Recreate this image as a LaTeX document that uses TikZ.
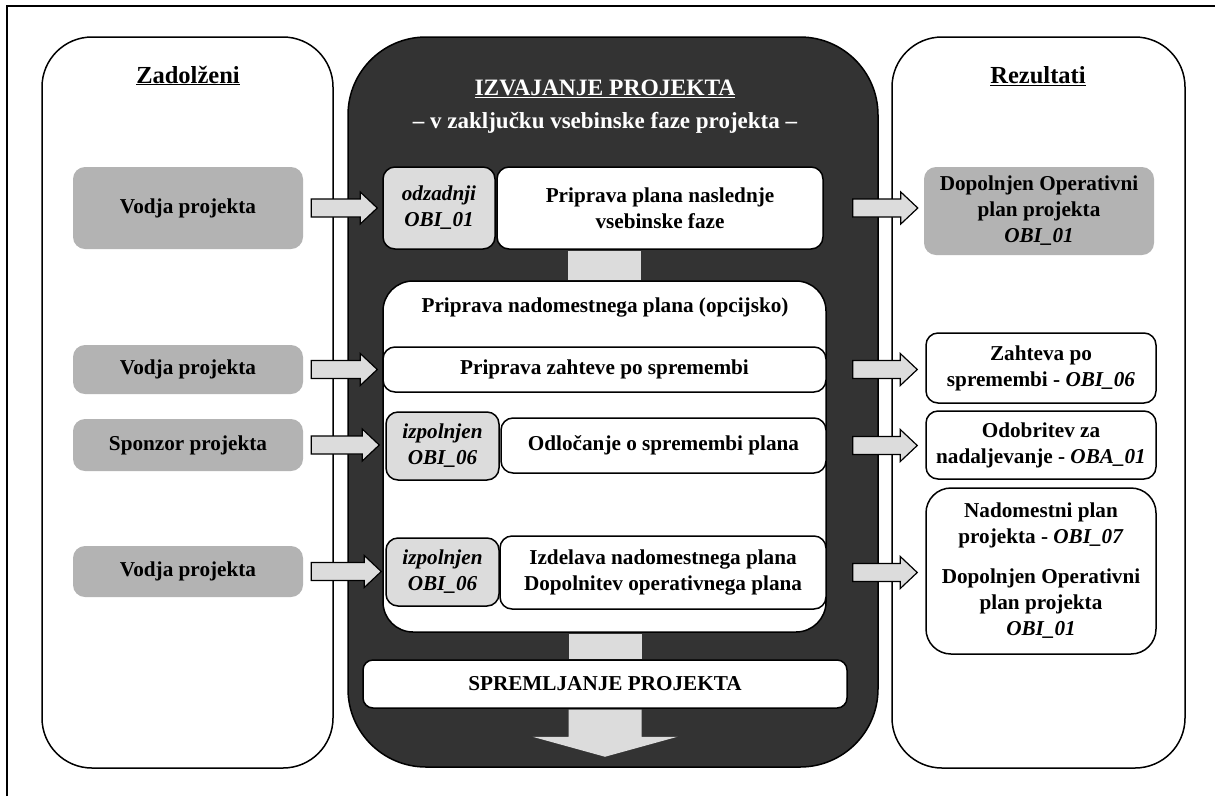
\documentclass[tikz,border=0pt]{standalone}
\usepackage{fontspec}
\setmainfont{Liberation Serif}
\usetikzlibrary{calc}

\definecolor{panelgray}{HTML}{333333}
\definecolor{lightfill}{HTML}{DCDCDC}
\definecolor{midfill}{HTML}{B3B3B3}

\tikzset{
  wh/.style 2 args={minimum width=#1pt, minimum height=#2pt},
  txt/.style={font=\bfseries\fontsize{21.2}{26}\selectfont, align=center},
  heading/.style={font=\bfseries\fontsize{23.5}{28}\selectfont, anchor=base},
  panel/.style={draw, line width=1.5pt, rounded corners=50pt, inner sep=0pt},
  whitebox/.style={txt, draw, fill=white, line width=1.5pt, rounded corners=12pt, inner sep=0pt},
  tagbox/.style={whitebox, fill=lightfill},
  rolebox/.style={txt, fill=midfill, rounded corners=12pt, inner sep=0pt},
  blockarr/.style={draw, fill=lightfill, line width=1.2pt, line join=miter},
}

% block arrow from #1.east (+#3) to #2.west (-#4), at the height of #1
\newcommand{\blockarrow}[4]{%
  \draw[blockarr] let \p1=(#1.east), \p2=(#2.west) in
    (\x1+#3,\y1+9pt) -- (\x2-#4-17pt,\y1+9pt) -- (\x2-#4-17pt,\y1+16pt)
    -- (\x2-#4,\y1) -- (\x2-#4-17pt,\y1-16pt) -- (\x2-#4-17pt,\y1-9pt)
    -- (\x1+#3,\y1-9pt) -- cycle;}

\begin{document}
\begin{tikzpicture}[x=1pt, y=-1pt]
\useasboundingbox (0,0) rectangle (1215,796);

% frame
\draw[line width=2pt] (7,796) -- (7,6) -- (1215,6);

% three columns
\node[panel, wh={291}{731}] (left) at (187.5,402.5) {};
\node[panel, wh={293}{731}] (right) at (1038.5,402.5) {};
\node[panel, fill=panelgray, rounded corners=78pt, wh={530}{730}] (center) at (613,402) {};

% headings
\node[heading, font=\bfseries\fontsize{24.5}{28}\selectfont] (ltitle) at (188,83) {\underline{Zadolženi}};
\node[heading, font=\bfseries\fontsize{24.5}{28}\selectfont] (rtitle) at (1038,83) {\underline{Rezultati}};
\node[heading, text=white] (ctitle) at (605,95) {\underline{IZVAJANJE PROJEKTA}};
\node[heading, text=white, font=\bfseries\fontsize{23}{28}\selectfont] (csub) at (605,128) {– v zaključku vsebinske faze projekta –};

% responsible roles
\node[rolebox, wh={230}{82}] (L1) at (188,208) {Vodja projekta};
\node[rolebox, wh={230}{49}] (L2) at (188,369.5) {Vodja projekta};
\node[rolebox, wh={230}{52}] (L3) at (188,445) {Sponzor projekta};
\node[rolebox, wh={230}{51}] (L4) at (188,571.5) {Vodja projekta};

% activities
\node[tagbox, wh={112}{82}] (S1) at (439,208) {\textit{odzadnji}\\\textit{OBI\_01}};
\node[whitebox, wh={326}{82}] (M1) at (660,208) {Priprava plana naslednje\\vsebinske faze};

\node[whitebox, rounded corners=30pt, wh={443}{351}] (IN) at (604.5,456.5) {};
\node[txt, anchor=base] (INt) at (605,312) {Priprava nadomestnega plana (opcijsko)};

\node[whitebox, wh={443}{45}] (M2) at (604.5,369.5) {Priprava zahteve po spremembi};
\node[tagbox, wh={113}{68}] (S3) at (442.5,446) {\textit{izpolnjen}\\\textit{OBI\_06}};
\node[whitebox, wh={325}{55}] (M3) at (663.5,445.5) {Odločanje o spremembi plana};
\node[tagbox, wh={113}{68}] (S4) at (442.5,572) {\textit{izpolnjen}\\\textit{OBI\_06}};
\node[whitebox, wh={326}{73}] (M4) at (663,572.5) {Izdelava nadomestnega plana\\Dopolnitev operativnega plana};

\node[whitebox, rounded corners=10pt, wh={484}{48}] (SP) at (605,684) {SPREMLJANJE PROJEKTA};

% results
\node[rolebox, wh={230}{88}] (R1) at (1039,211) {Dopolnjen Operativni\\plan projekta\\\textit{OBI\_01}};
\node[whitebox, wh={230}{70}] (R2) at (1041,368) {Zahteva po\\spremembi - \textit{OBI\_06}};
\node[whitebox, wh={230}{68}] (R3) at (1041,445) {Odobritev za\\nadaljevanje - \textit{OBA\_01}};
\node[whitebox, rounded corners=25pt, wh={230}{166}] (R4) at (1041,571) {Nadomestni plan\\projekta - \textit{OBI\_07}\\[14pt]Dopolnjen Operativni\\plan projekta\\\textit{OBI\_01}};

% vertical links inside the dark column
\fill[lightfill] let \p1=(IN.north), \p2=(M1.south) in
  (\x1-36.5pt,\y2-0.75pt) rectangle (\x1+36.5pt,\y1+0.75pt);
\fill[lightfill] let \p1=(SP.north), \p2=(IN.south) in
  (\x1-36.5pt,\y2-0.75pt) rectangle (\x1+36.5pt,\y1+0.75pt);
\fill[lightfill] let \p1=(SP.south) in
  (\x1-36.5pt,\y1-0.75pt) -- (\x1+36.5pt,\y1-0.75pt) -- (\x1+36.5pt,\y1-28pt)
  -- (\x1+72.5pt,\y1-28pt) -- (\x1,\y1-48pt) -- (\x1-72.5pt,\y1-28pt)
  -- (\x1-36.5pt,\y1-28pt) -- cycle;

% inputs
\blockarrow{L1}{S1}{8pt}{5pt}
\blockarrow{L2}{M2}{8pt}{5pt}
\blockarrow{L3}{S3}{8pt}{6pt}
\blockarrow{L4}{S4}{8pt}{4pt}

% outputs
\blockarrow{M1}{R1}{29pt}{6pt}
\blockarrow{M2}{R2}{26pt}{8pt}
\blockarrow{M3}{R3}{26pt}{8pt}
\blockarrow{M4}{R4}{26pt}{8pt}
\end{tikzpicture}
\end{document}
